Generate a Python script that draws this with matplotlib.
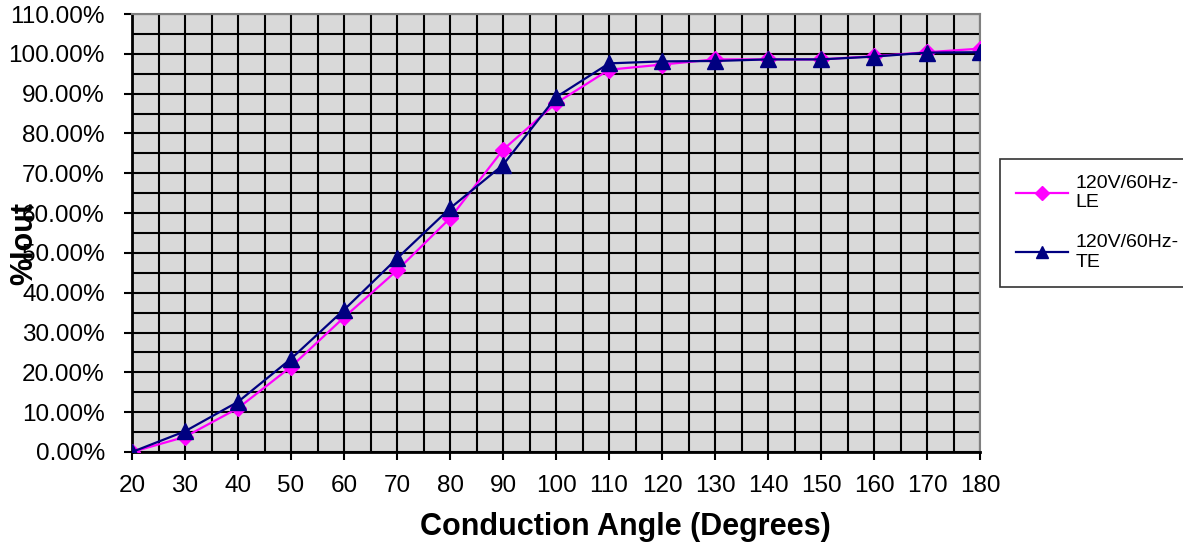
import numpy as np
import matplotlib
matplotlib.use("Agg")
import matplotlib.pyplot as plt
from matplotlib.ticker import MultipleLocator, FuncFormatter

# ---------------------------
# Data
# ---------------------------
angles = [20, 30, 40, 50, 60, 70, 80, 90, 100, 110, 120, 130, 140, 150, 160, 170, 180]
iout_le = [0.0, 3.8, 11.0, 21.4, 33.8, 45.6, 58.7, 75.9, 87.6, 96.0, 97.3, 98.6, 98.6, 98.6, 99.4, 100.4, 101.3]
iout_te = [0.0, 5.2, 12.6, 23.4, 35.7, 48.6, 61.2, 72.1, 89.1, 97.6, 98.1, 98.2, 98.6, 98.6, 99.3, 100.3, 100.4]
series_names = ["120V/60Hz-\nLE", "120V/60Hz-\nTE"]

plt.rcParams['font.family'] = ['Liberation Sans', 'DejaVu Sans']

# ---------------------------
# Plot
# ---------------------------
fig = plt.figure(figsize=(11.83, 5.45), dpi=100)
W, H = 1183, 545
ax = fig.add_axes([132 / W, 1 - 452 / H, (980 - 132) / W, (452 - 14) / H])
ax.set_facecolor("#D9D9D9")

ax.plot(angles, iout_le, color="#FF00FF", lw=1.6, marker="D", ms=8.5,
        mfc="#FF00FF", mec="#FF00FF", label=series_names[0], zorder=3)
ax.plot(angles, iout_te, color="#000080", lw=1.6, marker="^", ms=11,
        mfc="#000080", mec="#000080", label=series_names[1], zorder=4)

ax.set_xlim(20, 180)
ax.set_ylim(0, 110)
ax.xaxis.set_major_locator(MultipleLocator(10))
ax.xaxis.set_minor_locator(MultipleLocator(5))
ax.yaxis.set_major_locator(MultipleLocator(10))
ax.yaxis.set_minor_locator(MultipleLocator(5))
ax.yaxis.set_major_formatter(FuncFormatter(lambda v, p: f"{v:.2f}%"))

ax.grid(which="both", color="black", lw=1.5, zorder=1)
ax.set_axisbelow(True)
ax.tick_params(axis="x", which="major", direction="out", length=5.5, width=1.5,
               labelsize=17.5, pad=11, colors="black")
ax.tick_params(axis="y", which="major", direction="out", length=5.5, width=1.5,
               labelsize=17.5, pad=14, colors="black")
ax.tick_params(which="minor", length=0)

for side in ("left", "bottom"):
    ax.spines[side].set_color("black")
    ax.spines[side].set_linewidth(2)
for side in ("top", "right"):
    ax.spines[side].set_color("#808080")
    ax.spines[side].set_linewidth(1.5)

# axis titles
fig.text(625 / W, 1 - 535 / H, "Conduction Angle (Degrees)", fontsize=22,
         fontweight="bold", ha="center", va="baseline")
fig.text(24 / W, 1 - 243 / H, "%Iout", rotation=90, fontsize=22,
         fontweight="bold", ha="center", va="center")

leg = fig.legend(loc="upper left", bbox_to_anchor=(1000 / W, 1 - 159 / H),
                 borderaxespad=0, fontsize=14, frameon=True, fancybox=False,
                 edgecolor="black", handlelength=2.7, handletextpad=0.4,
                 labelspacing=1.2, borderpad=0.8, markerscale=0.85)
leg.get_frame().set_linewidth(1.2)

plt.savefig("out.png", dpi=100)
